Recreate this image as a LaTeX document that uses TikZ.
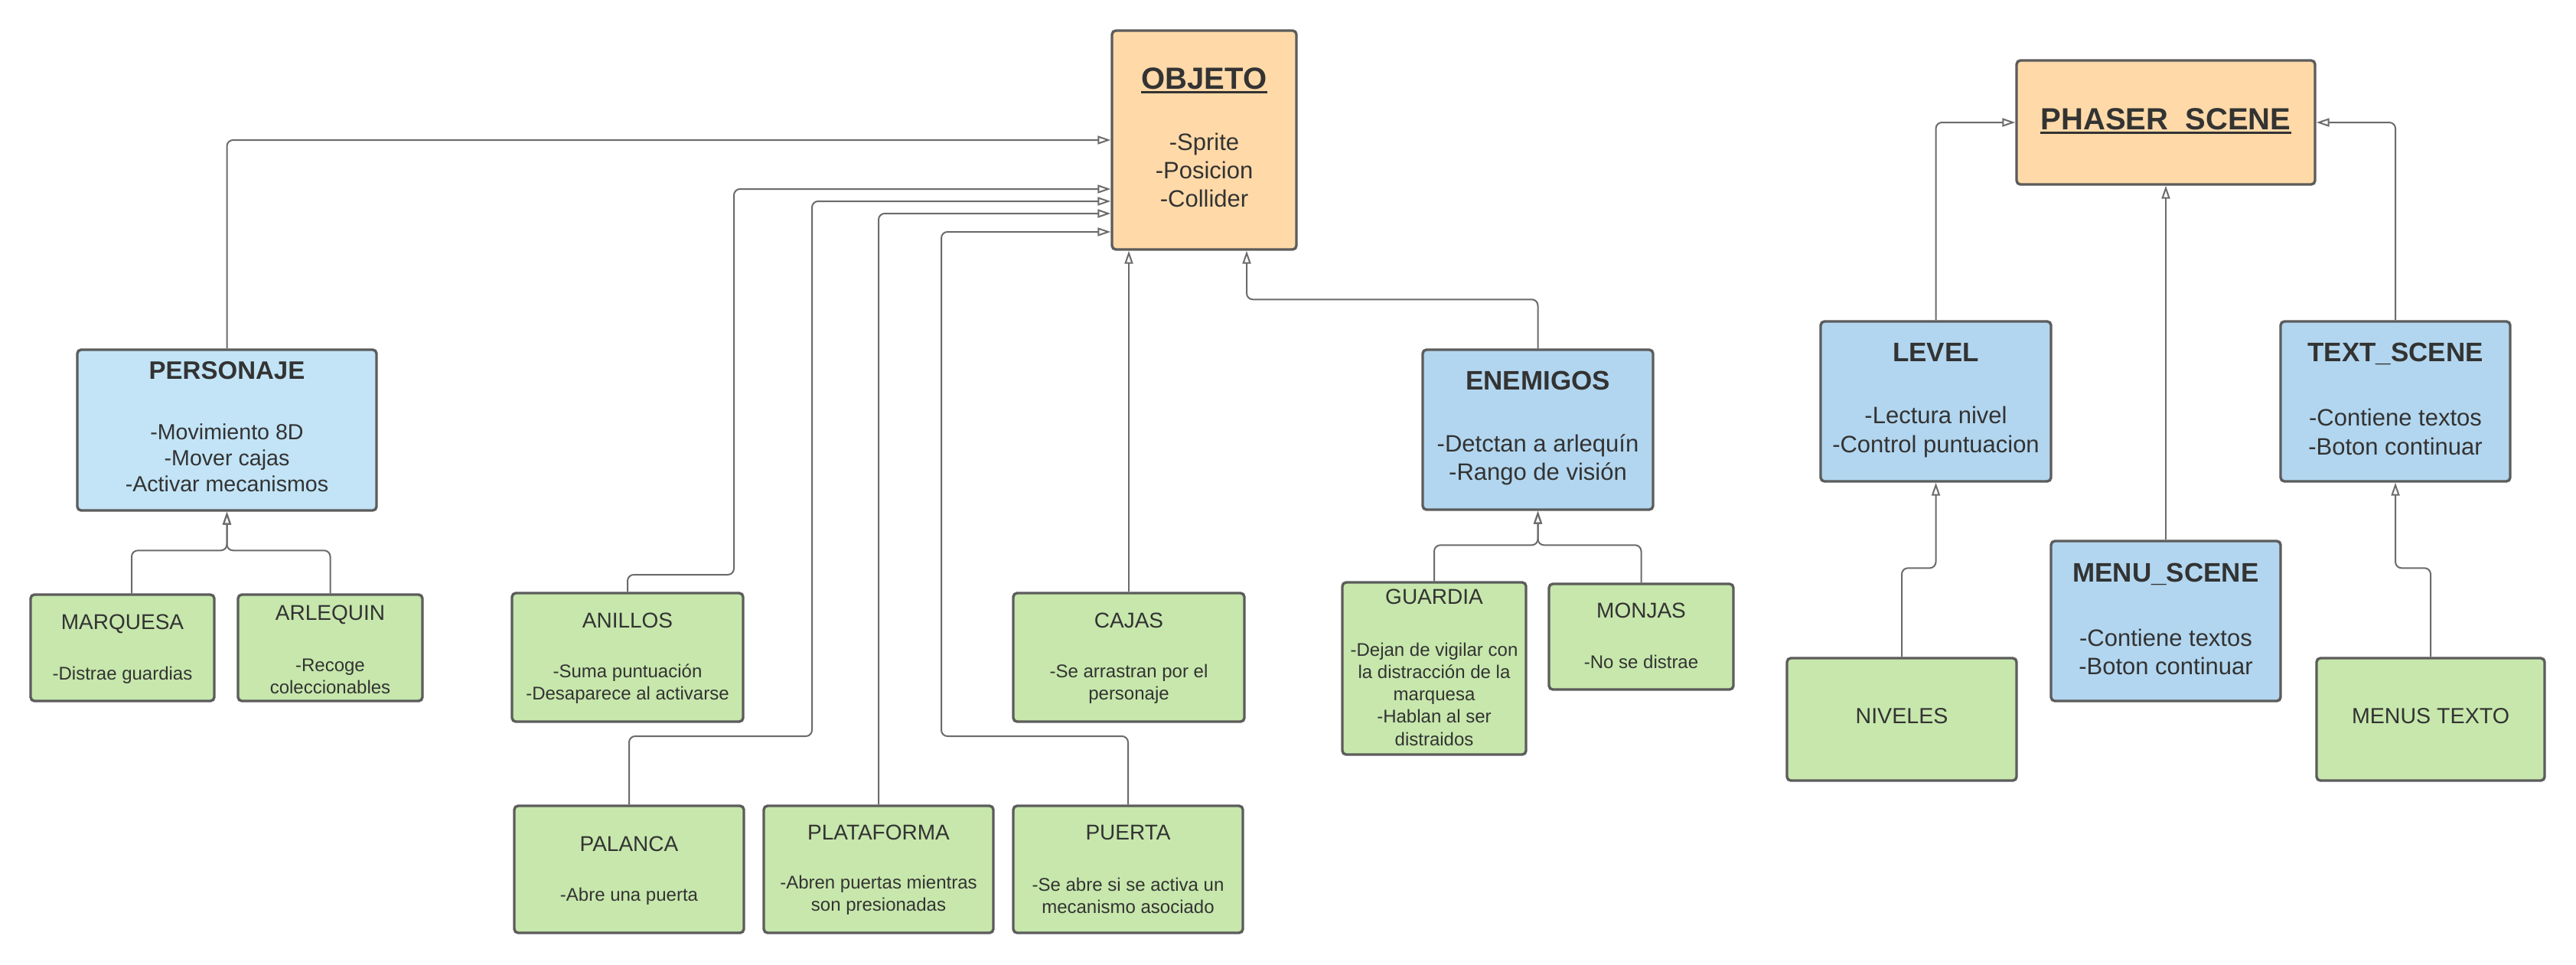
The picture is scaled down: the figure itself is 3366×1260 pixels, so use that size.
\documentclass[tikz,border=0pt]{standalone}
\usepackage{fontspec}
\setmainfont{Liberation Sans}
\usetikzlibrary{arrows.meta,calc}
\definecolor{orangefill}{HTML}{FFDAA8}
\definecolor{lightblue}{HTML}{C2E4F6}
\definecolor{bluefill}{HTML}{B2D6EF}
\definecolor{greenfill}{HTML}{C7E7AC}
\definecolor{bordergray}{HTML}{5C5C5C}
\definecolor{linegray}{HTML}{6B6B6B}
\definecolor{textgray}{HTML}{333333}
\begin{document}
\begin{tikzpicture}[x=0.5pt,y=-0.5pt,
  box/.style={draw=bordergray, line width=1.7pt, rounded corners=2.5pt, inner sep=0pt},
  obox/.style={box, fill=orangefill},
  lbox/.style={box, fill=lightblue},
  bbox/.style={box, fill=bluefill},
  gbox/.style={box, fill=greenfill},
  txt/.style={text=textgray, inner sep=0pt, align=center},
  bigtitle/.style={txt, anchor=base, font=\fontsize{20}{24}\selectfont\bfseries},
  btitle/.style={txt, anchor=base, font=\fontsize{17.5}{21}\selectfont\bfseries},
  bbody/.style={txt, font=\fontsize{15.5}{18.5}\selectfont},
  gtitle/.style={txt, anchor=base, font=\fontsize{14}{17}\selectfont},
  gbody/.style={txt, font=\fontsize{12}{14.6}\selectfont},
  uline/.style={draw=textgray, line width=1.5pt},
  conn/.style={draw=linegray, line width=1pt, rounded corners=4pt,
    -{Triangle[open, length=8.5pt, width=5.5pt]}}
]
\fill[white] (0,0) rectangle (3366,1260);
\useasboundingbox (0,0) rectangle (3366,1260);

% ---------- boxes ----------
\node[obox, minimum width=120.5pt, minimum height=143pt] (obj) at (1573.5,183) {};
\node[lbox, minimum width=195.5pt, minimum height=105pt] (pers) at (296.5,562) {};
\node[bbox, minimum width=150.5pt, minimum height=104.5pt] (enem) at (2009.5,561.5) {};
\node[gbox, minimum width=120pt, minimum height=112.5pt] (guar) at (1874,873.5) {};
\node[gbox, minimum width=120.5pt, minimum height=69pt] (monj) at (2144.5,832) {};
\node[gbox, minimum width=120pt, minimum height=69.5pt] (marq) at (160,846.5) {};
\node[gbox, minimum width=120.5pt, minimum height=69.5pt] (arle) at (431.5,846.5) {};
\node[gbox, minimum width=151pt, minimum height=84pt] (anil) at (820,859) {};
\node[gbox, minimum width=151pt, minimum height=84pt] (caja) at (1475,859) {};
\node[gbox, minimum width=150pt, minimum height=83pt] (pal) at (822,1136) {};
\node[gbox, minimum width=150pt, minimum height=83pt] (plat) at (1148,1136) {};
\node[gbox, minimum width=150pt, minimum height=83pt] (puer) at (1474,1136) {};
\node[obox, minimum width=195pt, minimum height=81pt] (phaser) at (2830,160) {};
\node[bbox, minimum width=150.5pt, minimum height=104.5pt] (lev) at (2529.5,524.5) {};
\node[bbox, minimum width=150pt, minimum height=104.5pt] (txs) at (3130,524.5) {};
\node[bbox, minimum width=150pt, minimum height=104.5pt] (menu) at (2830,811.5) {};
\node[gbox, minimum width=150pt, minimum height=80pt] (niv) at (2485,940) {};
\node[gbox, minimum width=149pt, minimum height=80pt] (mtx) at (3176,940) {};

% ---------- texts ----------
\node[bigtitle] (objT) at (1573.5,116) {OBJETO};
\draw[uline] ([yshift=-2pt]objT.base west) -- ([yshift=-2pt]objT.base east);
\node[bbody] (objB) at (1573.5,222) {-Sprite\\-Posicion\\-Collider};

\node[txt, anchor=base, font=\fontsize{16.5}{20}\selectfont\bfseries] (persT) at (296.5,495) {PERSONAJE};
\node[txt, font=\fontsize{14.3}{17}\selectfont] (persB) at (296.5,598) {-Movimiento 8D\\-Mover cajas\\-Activar mecanismos};

\node[btitle] (enemT) at (2009.5,509.5) {ENEMIGOS};
\node[bbody] (enemB) at (2009.5,601) {-Detctan a arlequín\\-Rango de visión};

\node[gtitle] (guarT) at (1874,789) {GUARDIA};
\node[gbody] (guarB) at (1874,907) {-Dejan de vigilar con\\la distracción de la\\marquesa\\-Hablan al ser\\distraidos};
\node[gtitle] (monjT) at (2144.5,807) {MONJAS};
\node[gbody, anchor=base] (monjB) at (2144.5,873.5) {-No se distrae};

\node[gtitle] (marqT) at (160,822) {MARQUESA};
\node[gbody, anchor=base] (marqB) at (160,888.5) {-Distrae guardias};
\node[gtitle] (arleT) at (431.5,810) {ARLEQUIN};
\node[gbody] (arleB) at (431.5,884) {-Recoge\\coleccionables};

\node[gtitle] (anilT) at (820,820) {ANILLOS};
\node[gbody] (anilB) at (820,894) {-Suma puntuación\\-Desaparece al activarse};
\node[gtitle] (cajaT) at (1475,820) {CAJAS};
\node[gbody] (cajaB) at (1475,894) {-Se arrastran por el\\personaje};

\node[gtitle] (palT) at (822,1112) {PALANCA};
\node[gbody, anchor=base] (palB) at (822,1177.5) {-Abre una puerta};
\node[gtitle] (platT) at (1148,1097) {PLATAFORMA};
\node[gbody] (platB) at (1148,1170) {-Abren puertas mientras\\son presionadas};
\node[gtitle] (puerT) at (1474,1097) {PUERTA};
\node[gbody] (puerB) at (1474,1170) {-Se abre si se activa un\\mecanismo asociado};

\node[bigtitle] (phT) at (2830,169) {PHASER\_SCENE};
\draw[uline] ([yshift=-2pt]phT.base west) -- ([yshift=-2pt]phT.base east);

\node[btitle] (levT) at (2529.5,472.5) {LEVEL};
\node[bbody, font=\fontsize{15.5}{19}\selectfont] (levB) at (2529.5,564) {-Lectura nivel\\-Control puntuacion};
\node[btitle] (txsT) at (3130,472.5) {TEXT\_SCENE};
\node[bbody, font=\fontsize{15.5}{19}\selectfont] (txsB) at (3130,564) {-Contiene textos\\-Boton continuar};
\node[btitle] (menuT) at (2830,760.5) {MENU\_SCENE};
\node[bbody] (menuB) at (2830,852) {-Contiene textos\\-Boton continuar};

\node[gtitle, font=\fontsize{14.3}{17}\selectfont] (nivT) at (2485,945) {NIVELES};
\node[gtitle, font=\fontsize{14.3}{17}\selectfont] (mtxT) at (3176,945) {MENUS TEXTO};

% ---------- connector anchors ----------
\coordinate (oA) at ($(obj.west)+(0,64)$);
\coordinate (oB) at ($(obj.west)+(0,80)$);
\coordinate (oC) at ($(obj.west)+(0,96)$);
\coordinate (oD) at ($(obj.west)+(0,120)$);
\coordinate (oE) at ($(obj.south)+(55.5,0)$);
\coordinate (mq) at ($(marq.north)+(12,0)$);

% ---------- connectors ----------
\draw[conn] (pers.north) |- (obj.west);
\draw[conn] (anil.north) |- (959,751) |- (oA);
\draw[conn] (pal.north) |- (1061,962) |- (oB);
\draw[conn] (plat.north) |- (oC);
\draw[conn] (puer.north) |- (1230,962) |- (oD);
\draw[conn] (caja.north) -- (caja.north |- obj.south);
\draw[conn] (enem.north) -- ++(0,-64) -| (oE);
\draw[conn] (mq) -- ++(0,-56) -| (pers.south);
\draw[conn] (arle.north) -- ++(0,-56) -| (pers.south);
\draw[conn] (guar.north) -- ++(0,-47) -| (enem.south);
\draw[conn] (monj.north) -- ++(0,-49) -| (enem.south);
\draw[conn] (lev.north) |- (phaser.west);
\draw[conn] (menu.north) -- (phaser.south);
\draw[conn] (txs.north) |- (phaser.east);
\draw[conn] (niv.north) -- ++(0,-116) -| (lev.south);
\draw[conn] (mtx.north) -- ++(0,-116) -| (txs.south);
\end{tikzpicture}
\end{document}
